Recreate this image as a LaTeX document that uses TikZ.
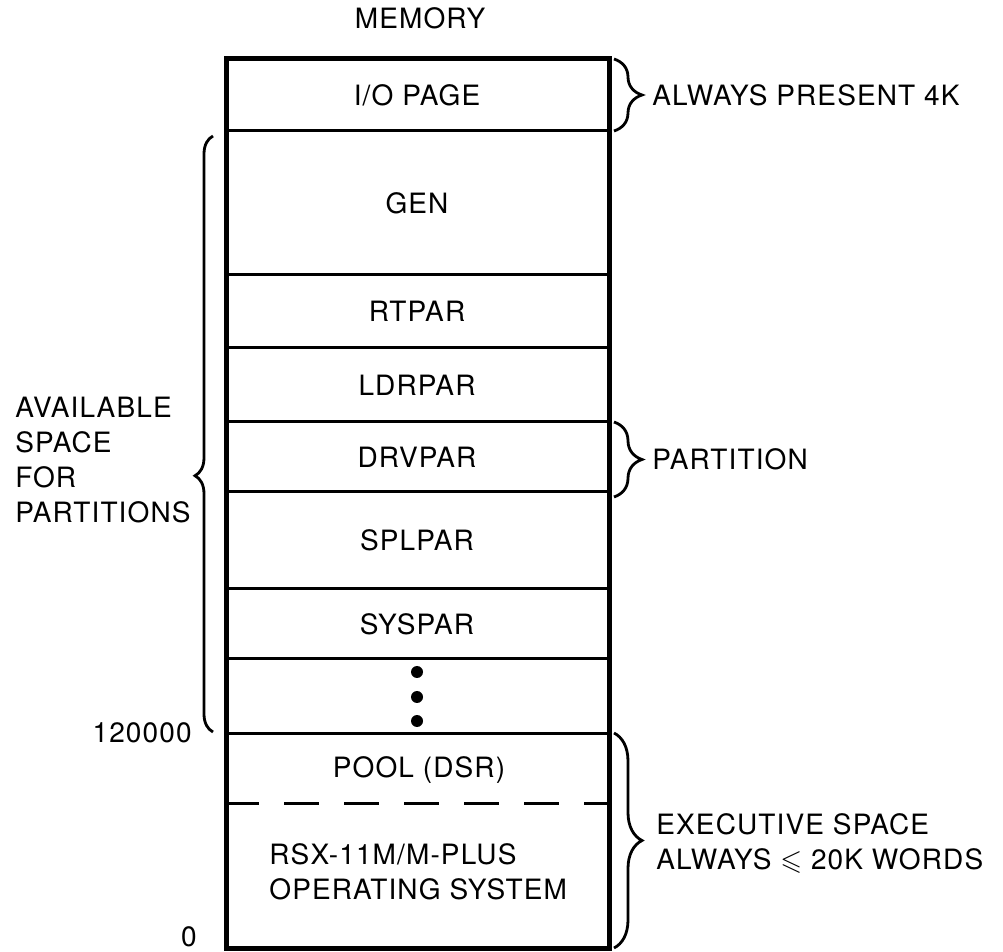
\documentclass[tikz,border=0pt]{standalone}
\usepackage{fontspec}
\setmainfont[LetterSpace=4]{TeX Gyre Heros}
\usepackage{amssymb}
\usetikzlibrary{decorations.pathreplacing}

\tikzset{
  lbl/.style={font=\fontsize{14}{17.5}\selectfont, inner sep=0pt},
  sepline/.style={line width=1.5pt},
  rbrace/.style={decorate, decoration={brace, amplitude=14pt}, line width=1.4pt},
}

\begin{document}
\begin{tikzpicture}[x=0.5pt,y=-0.5pt]
\useasboundingbox (0,0) rectangle (1003,952);
%%
\draw (420,18) node[lbl](mem){MEMORY};
%% partition lines
\draw[sepline]
(226,131)--(609,131)
(226,275)--(609,275)
(226,348)--(609,348)
(226,422)--(609,422)
(226,492)--(609,492)
(226,589)--(609,589)
(226,659)--(609,659)
(226,733)--(609,733)
;
\draw[sepline, dash pattern=on 17.5pt off 12.5pt, dash phase=1pt] (226,803)--(609,803);
\draw[line width=2.5pt] (226,59) rectangle (609,948);
%% contents
\draw (417,95) node[lbl](io){I/O PAGE}
(417,203) node[lbl](gen){GEN}
(417,311) node[lbl](rt){RTPAR}
(417,385) node[lbl](ldr){LDRPAR}
(417,457) node[lbl](drv){DRVPAR}
(417,540) node[lbl](spl){SPLPAR}
(417,624) node[lbl](sys){SYSPAR}
(419,770) node[lbl](pool){POOL (DSR)}
(269,872) node[lbl,anchor=west,align=left](os){RSX-11M/M-PLUS\\OPERATING SYSTEM};
\fill (417,672) circle (3pt) (417,697) circle (3pt) (417,721) circle (3pt);
%% addresses
\draw (192,733) node[lbl,anchor=east](top){120000}
(197,937) node[lbl,anchor=east](zero){0};
%% braces
\draw[decorate, decoration={brace, amplitude=9pt, aspect=0.43}, line width=1.4pt] (213,732)--(213,136);
\draw (15,460) node[lbl,anchor=west,align=left](avail){AVAILABLE\\SPACE\\FOR\\PARTITIONS};
\draw[rbrace] (614,59)--(614,131);
\draw (652,95) node[lbl,anchor=west](always){ALWAYS PRESENT 4K};
\draw[rbrace] (614,422)--(614,497);
\draw (652,459) node[lbl,anchor=west](part){PARTITION};
\draw[rbrace] (614,733)--(614,948);
\draw (656,843) node[lbl,anchor=west,align=left](exec){EXECUTIVE SPACE\\ALWAYS $\leqslant$ 20K WORDS};
\end{tikzpicture}
\end{document}
